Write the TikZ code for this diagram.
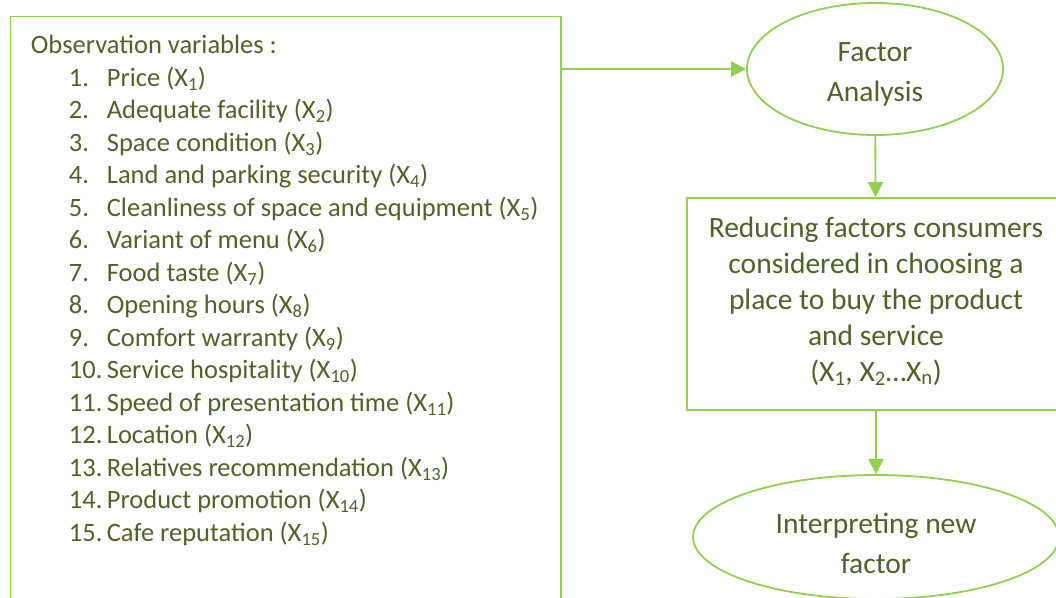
\documentclass[tikz,border=0pt]{standalone}
\usepackage{fontspec}
\setmainfont{Carlito}
\usepackage{tikz}
\usetikzlibrary{arrows.meta, positioning, shapes.geometric}
\definecolor{green1}{HTML}{92D050}
\definecolor{olive1}{HTML}{4F6228}
\newcommand{\obsline}[2]{\hspace*{38pt}\makebox[38pt][l]{#1.}#2}

\begin{document}
\begin{tikzpicture}[x=1pt,y=-1pt,>={Triangle[length=15pt,width=15pt]},
                    line width=1.8pt,font=\fontsize{29.5}{36}\selectfont]
        \tikzstyle{every node}=[text=olive1]
        \tikzstyle{box}=[draw=green1,rectangle,inner sep=0pt]
        \tikzstyle{oval}=[draw=green1,ellipse,inner sep=0pt,align=center,
                          font=\fontsize{29.5}{40}\selectfont]
        \clip (0,0) rectangle (1056,597);

        \node[box,anchor=north west,minimum width=550.5,minimum height=620] (obs) at (9.5,15.5) {};
        \node[anchor=north west,inner sep=0pt,align=left,
              font=\fontsize{26.5}{32.5}\selectfont] (vars) at ([shift={(20.5,19)}]obs.north west)
            {Observation variables :\\
             \obsline{1}{Price (X\textsubscript{1})}\\
             \obsline{2}{Adequate facility (X\textsubscript{2})}\\
             \obsline{3}{Space condition (X\textsubscript{3})}\\
             \obsline{4}{Land and parking security (X\textsubscript{4})}\\
             \obsline{5}{Cleanliness of space and equipment (X\textsubscript{5})}\\
             \obsline{6}{Variant of menu (X\textsubscript{6})}\\
             \obsline{7}{Food taste (X\textsubscript{7})}\\
             \obsline{8}{Opening hours (X\textsubscript{8})}\\
             \obsline{9}{Comfort warranty (X\textsubscript{9})}\\
             \obsline{10}{Service hospitality (X\textsubscript{10})}\\
             \obsline{11}{Speed of presentation time (X\textsubscript{11})}\\
             \obsline{12}{Location (X\textsubscript{12})}\\
             \obsline{13}{Relatives recommendation (X\textsubscript{13})}\\
             \obsline{14}{Product promotion (X\textsubscript{14})}\\
             \obsline{15}{Cafe reputation (X\textsubscript{15})}};

        \node[oval,minimum width=256,minimum height=132,text height=69pt] (fa) at (875,69) {Factor\\Analysis};
        \node[box,align=center,minimum width=378,minimum height=212,text height=159pt] (red) at (876,304)
            {Reducing factors consumers\\considered in choosing a\\place to buy the product\\and service\\(X\textsubscript{1}, X\textsubscript{2}\ldots X\textsubscript{n})};
        \node[oval,minimum width=366,minimum height=124,text height=73pt] (inf) at (876,537) {Interpreting new\\factor};

        \draw[->,green1] (obs.east |- fa.west) -- (fa.west);
        \draw[->,green1] (fa) -- (red);
        \draw[->,green1] (red) -- (inf);
    \end{tikzpicture}
\end{document}
